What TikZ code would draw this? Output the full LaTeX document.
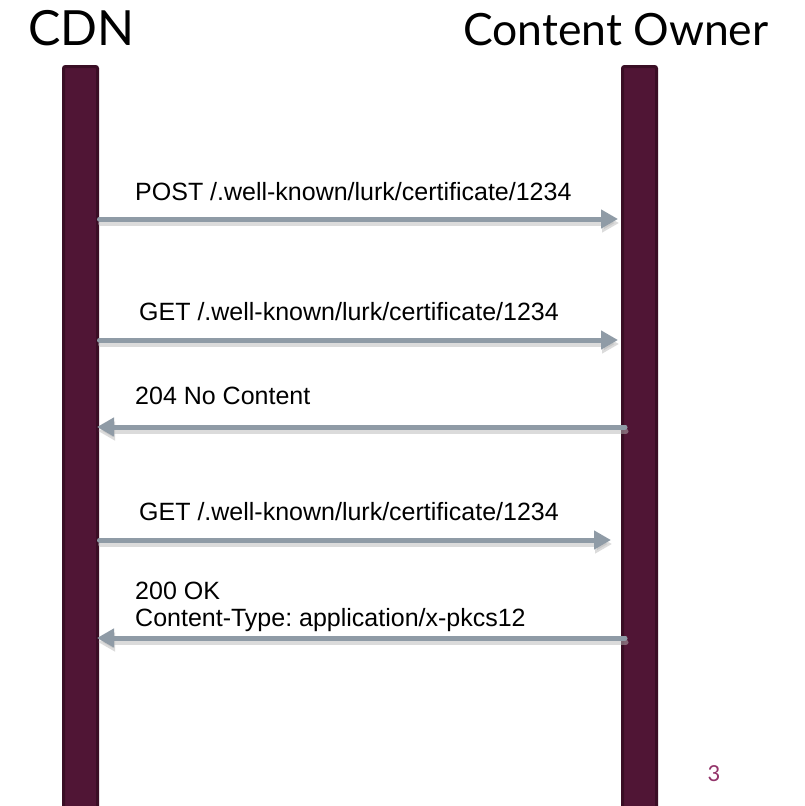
\documentclass[tikz,border=0pt]{standalone}
\usepackage{fontspec}
\setmainfont{Liberation Sans}
\newfontfamily\titlefont{Lato}
\usetikzlibrary{arrows.meta}
\definecolor{barfill}{HTML}{501535}
\definecolor{baredge}{HTML}{3A0E25}
\definecolor{arrowgray}{HTML}{8F9BA6}
\definecolor{shadowgray}{HTML}{B8B8B8}
\definecolor{pagenum}{HTML}{93346A}
\frenchspacing
\begin{document}
\begin{tikzpicture}[x=1pt,y=-1pt,
  lifeline/.style={fill=barfill, draw=baredge, line width=3pt, rounded corners=2pt},
  msg/.style={draw=arrowgray, line width=5pt, line cap=round, -{Triangle[length=17pt,width=18pt]}},
  msgshadow/.style={draw=shadowgray, line width=5pt, line cap=round, opacity=0.5, -{Triangle[length=17pt,width=18pt]}},
  msglabel/.style={font=\fontsize{25}{27}\selectfont, anchor=base west, inner sep=0pt},
  headtext/.style={anchor=base west, inner sep=0pt}]
\useasboundingbox (0,0) rectangle (805,806);
\clip (0,0) rectangle (805,806);
\fill[white] (0,0) rectangle (805,806);
% lifelines
\path[lifeline] (63.5,66.5) rectangle (97.5,840);
\path[lifeline] (622.5,66.5) rectangle (656.5,840);
% titles
\node[headtext, font=\titlefont\fontsize{48.5}{50}\selectfont] (cdnt) at (28,45) {CDN};
\node[headtext, font=\titlefont\fontsize{44.5}{50}\selectfont] (ownt) at (463,45) {Content Owner};
% endpoints
\coordinate (a1s) at (99.5,219);
\coordinate (a1e) at (618,219);
\coordinate (a2s) at (99.5,340);
\coordinate (a2e) at (618,340);
\coordinate (a3s) at (625,427);
\coordinate (a3e) at (97,427);
\coordinate (a4s) at (99.5,540);
\coordinate (a4e) at (611,540);
\coordinate (a5s) at (625,638);
\coordinate (a5e) at (97,638);
% shadows
\begin{scope}[transform canvas={shift={(1pt,-4pt)}}]
\draw[msgshadow] (a1s) -- (a1e);
\draw[msgshadow] (a2s) -- (a2e);
\draw[msgshadow] (a3s) -- (a3e);
\draw[msgshadow] (a4s) -- (a4e);
\draw[msgshadow] (a5s) -- (a5e);
\end{scope}
% messages
\draw[msg] (a1s) -- (a1e);
\draw[msg] (a2s) -- (a2e);
\draw[msg] (a3s) -- (a3e);
\draw[msg] (a4s) -- (a4e);
\draw[msg] (a5s) -- (a5e);
% labels
\node[msglabel] (l1) at (135,200.5) {POST /.well-known/lurk/certificate/1234};
\node[msglabel] (l2) at (139,320.5) {GET /.well-known/lurk/certificate/1234};
\node[msglabel] (l3) at (135,404.5) {204 No Content};
\node[msglabel] (l4) at (139,520.5) {GET /.well-known/lurk/certificate/1234};
\node[msglabel] (l5a) at (135,599.5) {200 OK};
\node[msglabel] (l5b) at (135,626.5) {Content-Type: application/x-pkcs12};
% page number
\node[font=\titlefont\fontsize{22}{22}\selectfont, text=pagenum, inner sep=0pt] (pg) at (714,774) {3};
\end{tikzpicture}
\end{document}
